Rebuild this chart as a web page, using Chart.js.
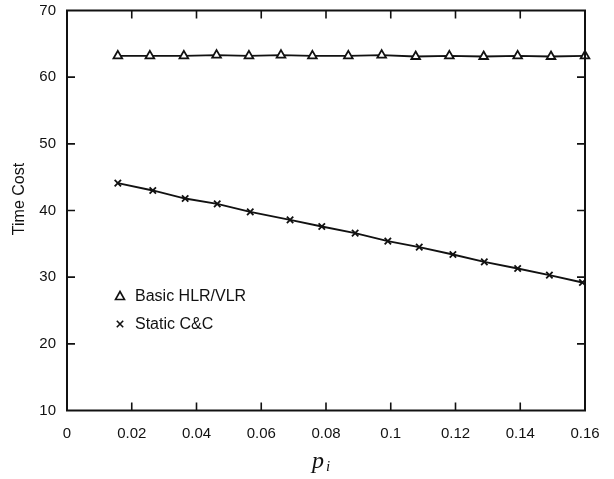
<!DOCTYPE html>
<html>
<head>
<meta charset="utf-8">
<script src="https://cdn.jsdelivr.net/npm/chart.js@4/dist/chart.umd.min.js"></script>
<style>
  html, body { margin: 0; padding: 0; background: #fff; }
  #wrap { width: 614px; height: 479px; }
</style>
</head>
<body>
<div id="wrap"><canvas id="chart" width="614" height="479"></canvas></div>
<script>
// valores
const pBasic = [0.0157, 0.0256, 0.0361, 0.0462, 0.0562, 0.0661, 0.0758, 0.0869, 0.0972, 0.1077, 0.1181, 0.1287, 0.1392, 0.1495, 0.1600]
const costBasic = [63.2, 63.2, 63.2, 63.3, 63.2, 63.3, 63.2, 63.2, 63.3, 63.1, 63.2, 63.1, 63.2, 63.1, 63.2]

const pStatic = [0.0157, 0.0265, 0.0365, 0.0464, 0.0566, 0.0689, 0.0787, 0.0890, 0.0991, 0.1088, 0.1192, 0.1289, 0.1392, 0.1490, 0.1592]
const costStatic = [44.1, 43.0, 41.8, 41.0, 39.8, 38.6, 37.6, 36.6, 35.4, 34.5, 33.4, 32.3, 31.3, 30.3, 29.2]

const xTicks = [0, 0.02, 0.04, 0.06, 0.08, 0.1, 0.12, 0.14, 0.16]
const yTicks = [10, 20, 30, 40, 50, 60, 70]

const seriesNames = ['Basic HLR/VLR', 'Static C&C']
const yTitle = 'Time Cost'

const INK = '#111'
const toPoints = (xs, ys) => xs.map((x, i) => ({ x: x, y: ys[i] }))

// moldura, marcas internas, legenda e títulos
const framePlugin = {
  id: 'frame',
  afterDraw(chart) {
    const { ctx, chartArea: a, scales } = chart
    const xs = scales.x, ys = scales.y
    const tick = 8
    ctx.save()
    ctx.strokeStyle = INK
    ctx.lineWidth = 2
    ctx.strokeRect(a.left, a.top, a.right - a.left, a.bottom - a.top)

    ctx.lineWidth = 1.6
    ctx.beginPath()
    xTicks.slice(1, -1).forEach(v => {
      const px = xs.getPixelForValue(v)
      ctx.moveTo(px, a.bottom); ctx.lineTo(px, a.bottom - tick)
      ctx.moveTo(px, a.top); ctx.lineTo(px, a.top + tick)
    })
    yTicks.slice(1, -1).forEach(v => {
      const py = ys.getPixelForValue(v)
      ctx.moveTo(a.left, py); ctx.lineTo(a.left + tick, py)
      ctx.moveTo(a.right, py); ctx.lineTo(a.right - tick, py)
    })
    ctx.stroke()

    // legenda dentro do gráfico
    const lx = 120, ly = [296, 324]
    ctx.fillStyle = INK
    ctx.font = '16px "Liberation Sans", Arial, sans-serif'
    ctx.textBaseline = 'middle'
    ctx.textAlign = 'left'
    chart.data.datasets.forEach((ds, i) => {
      const y = ly[i]
      ctx.lineWidth = 1.6
      ctx.beginPath()
      if (ds.pointStyle === 'triangle') {
        ctx.moveTo(lx, y - 4.5); ctx.lineTo(lx + 4.5, y + 3.5); ctx.lineTo(lx - 4.5, y + 3.5); ctx.closePath()
      } else {
        ctx.moveTo(lx - 3.2, y - 3.2); ctx.lineTo(lx + 3.2, y + 3.2)
        ctx.moveTo(lx + 3.2, y - 3.2); ctx.lineTo(lx - 3.2, y + 3.2)
      }
      ctx.stroke()
      ctx.fillText(ds.label, lx + 15, y + 1)
    })

    // título do eixo y
    ctx.save()
    ctx.translate(20, 199)
    ctx.rotate(-Math.PI / 2)
    ctx.textAlign = 'center'
    ctx.fillText(yTitle, 0, 0)
    ctx.restore()

    // título do eixo x: p com índice i
    const cx = (a.left + a.right) / 2
    ctx.textBaseline = 'alphabetic'
    ctx.textAlign = 'center'
    ctx.font = 'italic 24px "Liberation Serif", "DejaVu Serif", serif'
    ctx.fillText('p', cx - 8, 468)
    ctx.font = 'italic 15px "Liberation Serif", "DejaVu Serif", serif'
    ctx.fillText('i', cx + 2, 471)
    ctx.restore()
  }
}

new Chart(document.getElementById('chart'), {
  type: 'line',
  data: {
    datasets: [
      {
        label: seriesNames[0],
        data: toPoints(pBasic, costBasic),
        borderColor: INK,
        borderWidth: 1.8,
        pointStyle: 'triangle',
        pointRadius: 5,
        pointBorderWidth: 1.8,
        pointBorderColor: INK,
        pointBackgroundColor: '#fff',
        tension: 0,
        clip: false
      },
      {
        label: seriesNames[1],
        data: toPoints(pStatic, costStatic),
        borderColor: INK,
        borderWidth: 1.8,
        pointStyle: 'crossRot',
        pointRadius: 4.5,
        pointBorderWidth: 1.8,
        pointBorderColor: INK,
        tension: 0,
        clip: false
      }
    ]
  },
  options: {
    responsive: false,
    animation: false,
    layout: { autoPadding: false, padding: { top: 10.5, right: 29, left: 0, bottom: 0 } },
    plugins: {
      legend: { display: false },
      tooltip: { enabled: false }
    },
    scales: {
      x: {
        type: 'linear',
        min: 0,
        max: 0.16,
        afterBuildTicks: s => { s.ticks = xTicks.map(v => ({ value: v })) },
        afterFit: s => { s.height = 68.5; s.paddingLeft = 0; s.paddingRight = 0 },
        grid: { display: false, drawTicks: false },
        border: { display: false },
        ticks: {
          color: INK,
          padding: 14,
          font: { family: '"Liberation Sans", Arial, sans-serif', size: 15 },
          callback: v => String(Number(v.toFixed(2)))
        }
      },
      y: {
        min: 10,
        max: 70,
        afterBuildTicks: s => { s.ticks = yTicks.map(v => ({ value: v })) },
        afterFit: s => { s.width = 67; s.paddingTop = 0; s.paddingBottom = 0 },
        grid: { display: false, drawTicks: false },
        border: { display: false },
        ticks: {
          color: INK,
          padding: 11,
          font: { family: '"Liberation Sans", Arial, sans-serif', size: 15 }
        }
      }
    }
  },
  plugins: [framePlugin]
})
</script>
</body>
</html>
